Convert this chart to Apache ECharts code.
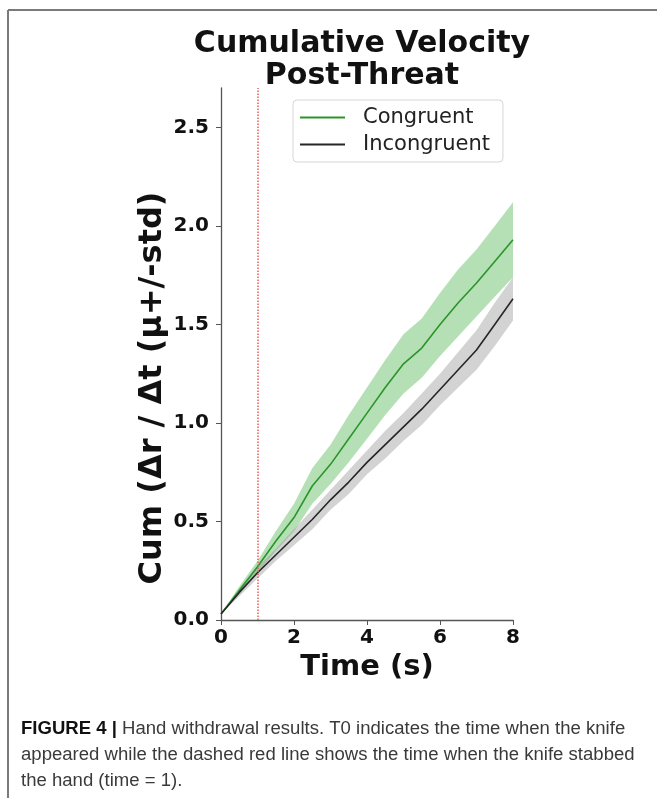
<!DOCTYPE html>
<html>
<head>
<meta charset="utf-8">
<script src="https://cdn.jsdelivr.net/npm/echarts@6/dist/echarts.min.js"></script>
<style>
  html, body { margin: 0; padding: 0; background: #fff; }
  #chart { width: 657px; height: 798px; }
</style>
</head>
<body>
<div id="chart"></div>
<script>
// values
var timeSec        = [0, 0.5, 1, 1.5, 2, 2.5, 3, 3.5, 4, 4.5, 5, 5.5, 6, 6.5, 7, 7.5, 8];
var congruentMean  = [0.03, 0.15, 0.27, 0.40, 0.52, 0.68, 0.79, 0.92, 1.05, 1.18, 1.30, 1.38, 1.50, 1.61, 1.71, 1.82, 1.93];
var congruentStd   = [0.00, 0.02, 0.03, 0.05, 0.07, 0.09, 0.10, 0.12, 0.13, 0.14, 0.15, 0.15, 0.16, 0.17, 0.17, 0.18, 0.19];
var incongMean     = [0.03, 0.14, 0.24, 0.33, 0.42, 0.51, 0.61, 0.70, 0.80, 0.89, 0.98, 1.07, 1.17, 1.27, 1.37, 1.50, 1.63];
var incongStd      = [0.00, 0.02, 0.03, 0.03, 0.04, 0.05, 0.05, 0.06, 0.06, 0.07, 0.07, 0.08, 0.08, 0.09, 0.10, 0.11, 0.11];
var yTicks = [0, 0.5, 1.0, 1.5, 2.0, 2.5];
var xTicks = [0, 2, 4, 6, 8];
var stabTime = 1;

var captionLines = [
    "{b|FIGURE 4 |} Hand withdrawal results. T0 indicates the time when the knife",
    "appeared while the dashed red line shows the time when the knife stabbed",
    "the hand (time = 1)."
];

function pairs(ys){
    var out = [];
    for(var i=0;i<timeSec.length;i++){
        out.push([timeSec[i], ys[i]]);
    }
    return out;
}
function bandData(m, s){
    var out = [];
    for(var i=0;i<m.length;i++){
        out.push([timeSec[i], +(m[i]-s[i]).toFixed(3), +(m[i]+s[i]).toFixed(3)]);
    }
    return out;
}
// one polygon per band: upper edge forward, lower edge back
function bandRenderer(m, s, fill){
    return function(params, api){
        if(params.dataIndex !== 0){
            return null;
        }
        var pts = [];
        for(var i=0;i<m.length;i++){
            pts.push(api.coord([timeSec[i], m[i]+s[i]]));
        }
        for(var j=m.length-1;j>=0;j--){
            pts.push(api.coord([timeSec[j], m[j]-s[j]]));
        }
        return {
            type: 'polygon',
            shape: { points: pts },
            style: { fill: fill }
        };
    };
}

var GREEN = "#2b952b";
var DARK = "#262626";
var boldFont = "DejaVu Sans";

var chart = echarts.init(document.getElementById('chart'));

var option = {
    backgroundColor: '#fff',
    animation: false,
    title: {
        text: 'Cumulative Velocity\nPost-Threat',
        left: 357,
        top: 23,
        textAlign: 'center',
        textStyle: {
            fontFamily: boldFont,
            fontWeight: 'bold',
            fontSize: 30,
            lineHeight: 32,
            color: '#111'
        }
    },
    legend: {
        data: ['Congruent', 'Incongruent'],
        orient: 'vertical',
        left: 293,
        top: 100,
        padding: [7, 13, 7, 7],
        itemGap: 6,
        itemWidth: 45,
        itemHeight: 2,
        icon: 'rect',
        backgroundColor: '#fff',
        borderColor: '#d6d6d6',
        borderWidth: 1,
        borderRadius: 4,
        textStyle: {
            fontFamily: 'DejaVu Sans',
            fontSize: 21,
            color: '#222',
            padding: [0, 0, 0, 13]
        }
    },
    grid: {
        left: 221,
        right: 144,
        top: 88,
        bottom: 178
    },
    xAxis: {
        type: 'value',
        min: 0,
        max: 8,
        interval: 2,
        name: 'Time (s)',
        nameLocation: 'middle',
        nameGap: 32,
        nameTextStyle: {
            fontFamily: boldFont, fontWeight: 'bold', fontSize: 29, color: '#111'
        },
        splitLine: { show: false },
        axisLine: { lineStyle: { color: '#555', width: 1.3 } },
        axisTick: { length: 5, lineStyle: { color: '#555' }, customValues: xTicks },
        axisLabel: {
            customValues: xTicks,
            margin: 8,
            fontFamily: boldFont, fontWeight: 'bold', fontSize: 20, color: '#111'
        }
    },
    yAxis: {
        type: 'value',
        min: 0,
        max: 2.7,
        interval: 0.5,
        splitLine: { show: false },
        axisLine: { show: true, lineStyle: { color: '#555', width: 1.3 } },
        axisTick: { show: true, length: 5, lineStyle: { color: '#555' }, customValues: yTicks },
        axisLabel: {
            customValues: yTicks,
            margin: 12,
            formatter: function(v){ return v.toFixed(1); },
            fontFamily: boldFont, fontWeight: 'bold', fontSize: 20, color: '#111'
        }
    },
    series: [
        {
            name: 'cBand', type: 'custom', silent: true,
            data: bandData(congruentMean, congruentStd),
            encode: { x: 0, y: [1, 2] },
            renderItem: bandRenderer(congruentMean, congruentStd, 'rgba(60,170,60,0.38)')
        },
        {
            name: 'iBand', type: 'custom', silent: true,
            data: bandData(incongMean, incongStd),
            encode: { x: 0, y: [1, 2] },
            renderItem: bandRenderer(incongMean, incongStd, 'rgba(150,150,150,0.42)')
        },
        {
            name: 'Congruent', type: 'line', data: pairs(congruentMean),
            symbol: 'none', itemStyle: { color: GREEN },
            lineStyle: { color: GREEN, width: 1.6 },
            markLine: {
                silent: true,
                symbol: ['none', 'none'],
                label: { show: false },
                lineStyle: { color: '#ef5a52', type: 'dotted', width: 1.5, opacity: 1 },
                data: [{ xAxis: stabTime }]
            }
        },
        {
            name: 'Incongruent', type: 'line', data: pairs(incongMean),
            symbol: 'none', itemStyle: { color: DARK },
            lineStyle: { color: DARK, width: 1.6 }
        }
    ],
    graphic: [
        { type: 'line', shape: { x1: 8, y1: 10, x2: 657, y2: 10 }, style: { stroke: '#7a7a7a', lineWidth: 2 } },
        { type: 'line', shape: { x1: 8, y1: 10, x2: 8, y2: 798 }, style: { stroke: '#7a7a7a', lineWidth: 2 } },
        {
            // y axis title, placed by hand to sit where the figure has it
            type: 'text',
            x: 153,
            y: 388,
            rotation: Math.PI / 2,
            style: {
                text: 'Cum (Δr / Δt (μ+/-std)',
                fontFamily: boldFont,
                fontWeight: 'bold',
                fontSize: 32,
                fill: '#111',
                align: 'center',
                verticalAlign: 'middle'
            }
        },
        {
            type: 'text',
            left: 21,
            top: 716,
            scaleX: 1.06,
            style: {
                text: captionLines.join('\n'),
                fontFamily: 'Liberation Sans',
                fontSize: 17.5,
                lineHeight: 26,
                fill: '#3a3a3a',
                rich: {
                    b: { fontFamily: 'Liberation Sans', fontSize: 17.5, fontWeight: 'bold', fill: '#111', lineHeight: 26 }
                }
            }
        }
    ]
};

chart.setOption(option);
</script>
</body>
</html>
